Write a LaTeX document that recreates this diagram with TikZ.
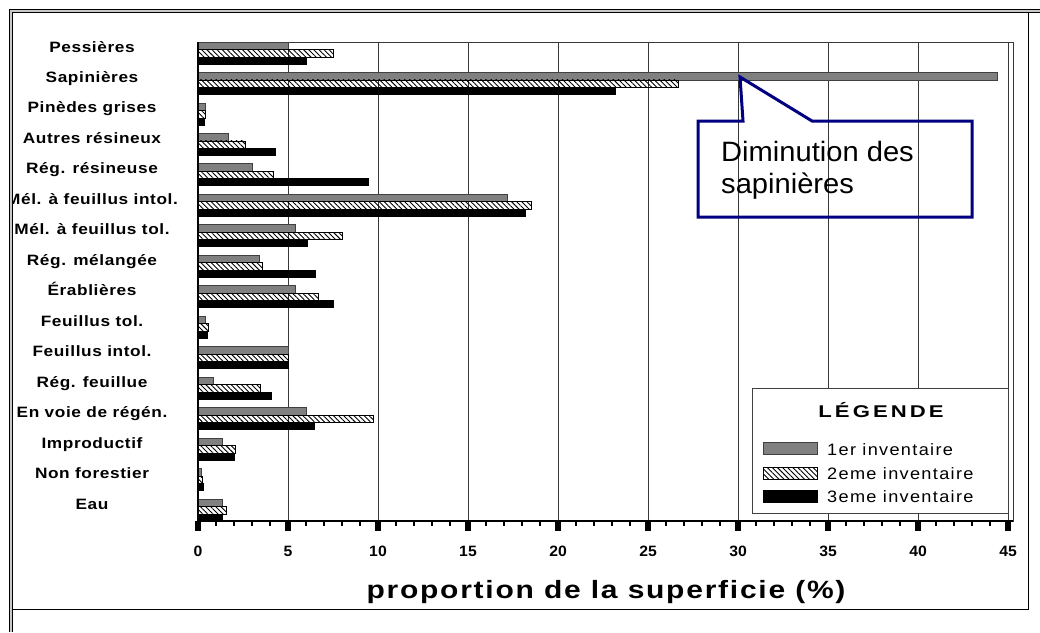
\documentclass[tikz,border=0pt]{standalone}
\usepackage{fontspec}
\setmainfont{Liberation Sans}
\newfontfamily\catfont{Liberation Sans}[FakeStretch=1.15,LetterSpace=4]
\newfontfamily\tickfont{Liberation Sans}[FakeStretch=1.05]
\newfontfamily\titfont{Liberation Sans}[FakeStretch=1.2,LetterSpace=7]
\newfontfamily\legtitfont{Liberation Sans}[FakeStretch=1.3,LetterSpace=18]
\newfontfamily\legfont{Liberation Sans}[FakeStretch=1.1,LetterSpace=8]
\newfontfamily\calfont{Liberation Sans}[FakeStretch=1.04]
\usetikzlibrary{patterns.meta}
\definecolor{bargray}{HTML}{808080}
\definecolor{barline}{HTML}{404040}
\definecolor{gridc}{HTML}{383838}
\definecolor{navyc}{HTML}{000080}
\definecolor{bandc}{HTML}{C8C8C8}
\tikzset{
  bargr/.style={fill=bargray,draw=barline,line width=0.8pt},
  barhat/.style={draw=black,line width=0.8pt,pattern={Lines[angle=-45,distance=3.6pt,line width=0.9pt]}},
  barbk/.style={fill=black,draw=black,line width=0.8pt},
  catlabel/.style={font=\catfont\bfseries\fontsize{15}{17}\selectfont,anchor=base,inner sep=0pt},
  ticklabel/.style={font=\tickfont\bfseries\fontsize{15}{17}\selectfont,anchor=base,inner sep=0pt},
  legtext/.style={font=\legfont\fontsize{16.5}{19}\selectfont,anchor=base west,inner sep=0pt},
  gridline/.style={draw=gridc,line width=0.9pt},
}
\begin{document}
\begin{tikzpicture}[x=1pt,y=-1pt]
\useasboundingbox (0,0) rectangle (1040,632);
\fill[white] (0,0) rectangle (1040,632);
% grid
\foreach \v in {5,10,...,40}{
  \draw[gridline] ({198+18*\v},42) -- ({198+18*\v},521);
}
\draw[gridline] (198,42) -- (1013,42);
\draw[gridline] (1008,42) rectangle (1013,521);
% bars and labels
\begin{scope}
\clip (12.5,12.5) rectangle (1027,608);
\foreach \lab/\va/\vb/\vc [count=\i from 0] in {
 {Pessières}/5.0/7.5/6.0,
 {Sapinières}/44.4/26.7/23.2,
 {Pinèdes grises}/0.4/0.4/0.35,
 {Autres résineux}/1.7/2.65/4.3,
 {Rég. résineuse}/3.0/4.2/9.45,
 {Mél. à feuillus intol.}/17.2/18.5/18.2,
 {Mél. à feuillus tol.}/5.4/8.0/6.1,
 {Rég. mélangée}/3.4/3.6/6.5,
 {Érablières}/5.4/6.7/7.5,
 {Feuillus tol.}/0.4/0.6/0.5,
 {Feuillus intol.}/5.0/5.0/5.0,
 {Rég. feuillue}/0.85/3.45/4.05,
 {En voie de régén.}/6.0/9.75/6.45,
 {Improductif}/1.35/2.05/2.0,
 {Non forestier}/0.2/0.25/0.3,
 {Eau}/1.35/1.6/1.35}{
  \pgfmathsetmacro\ty{42+30.47*\i}
  \node[catlabel] (lab\i) at (92,\ty+10) {\lab};
  \draw[bargr] (198,\ty) rectangle ({198+18*\va},\ty+7.5);
  \draw[barhat] (198,\ty+7.5) rectangle ({198+18*\vb},\ty+15);
  \draw[barbk] (198,\ty+15) rectangle ({198+18*\vc},\ty+22);
}
\end{scope}
% axes
\draw[line width=1.2pt,black] (198,42) -- (198,521);
\draw[line width=1.4pt,black] (197,521) -- (1013,521);
\foreach \v in {0,...,45}{
  \pgfmathtruncatemacro\m{mod(\v,5)}
  \ifnum\m=0
    \fill[black] ({198+18*\v-2.7},521) rectangle ({198+18*\v+2.7},531);
    \node[ticklabel] (t\v) at ({198+18*\v},556) {\v};
  \else
    \fill[black] ({198+18*\v-1},521) rectangle ({198+18*\v+1},525.5);
  \fi
}
\node[font=\titfont\bfseries\fontsize{25}{28}\selectfont,anchor=base,inner sep=0pt] (xtitle) at (606,598) {proportion de la superficie (\%)};
% legend
\draw[draw=barline,fill=white,line width=0.9pt] (752,388) rectangle (1008,513);
\node[font=\legtitfont\bfseries\fontsize{17}{19}\selectfont,anchor=base,inner sep=0pt] (legtitle) at (881,417.5) {LÉGENDE};
\draw[bargr] (763,442) rectangle (817,454.5);
\draw[barhat] (763,467) rectangle (817,479);
\draw[barbk] (763,490) rectangle (817,502);
\node[legtext] (l1) at (827,455) {1er inventaire};
\node[legtext] (l2) at (827,479) {2eme inventaire};
\node[legtext] (l3) at (827,502) {3eme inventaire};
% callout
\draw[navyc,line width=3pt,line join=miter] (698,121) -- (743,121) -- (740,77) -- (812,121) -- (972,121) -- (972,217) -- (698,217) -- cycle;
\node[font=\calfont\fontsize{28}{32}\selectfont,anchor=base west,inner sep=0pt] (c1) at (721,161) {Diminution des};
\node[font=\calfont\fontsize{28}{32}\selectfont,anchor=base west,inner sep=0pt] (c2) at (721,193.5) {sapinières};
% frame
\fill[bandc] (9,9) rectangle (1040,12);
\fill[bandc] (9,9) rectangle (12,632);
\draw[black,line width=0.9pt] (9,632) -- (9,9) -- (1040,9);
\draw[black,line width=0.9pt] (12,632) -- (12,12) -- (1040,12);
\draw[black,line width=1pt] (12,609) -- (1028,609) -- (1028,12);
\end{tikzpicture}
\end{document}
